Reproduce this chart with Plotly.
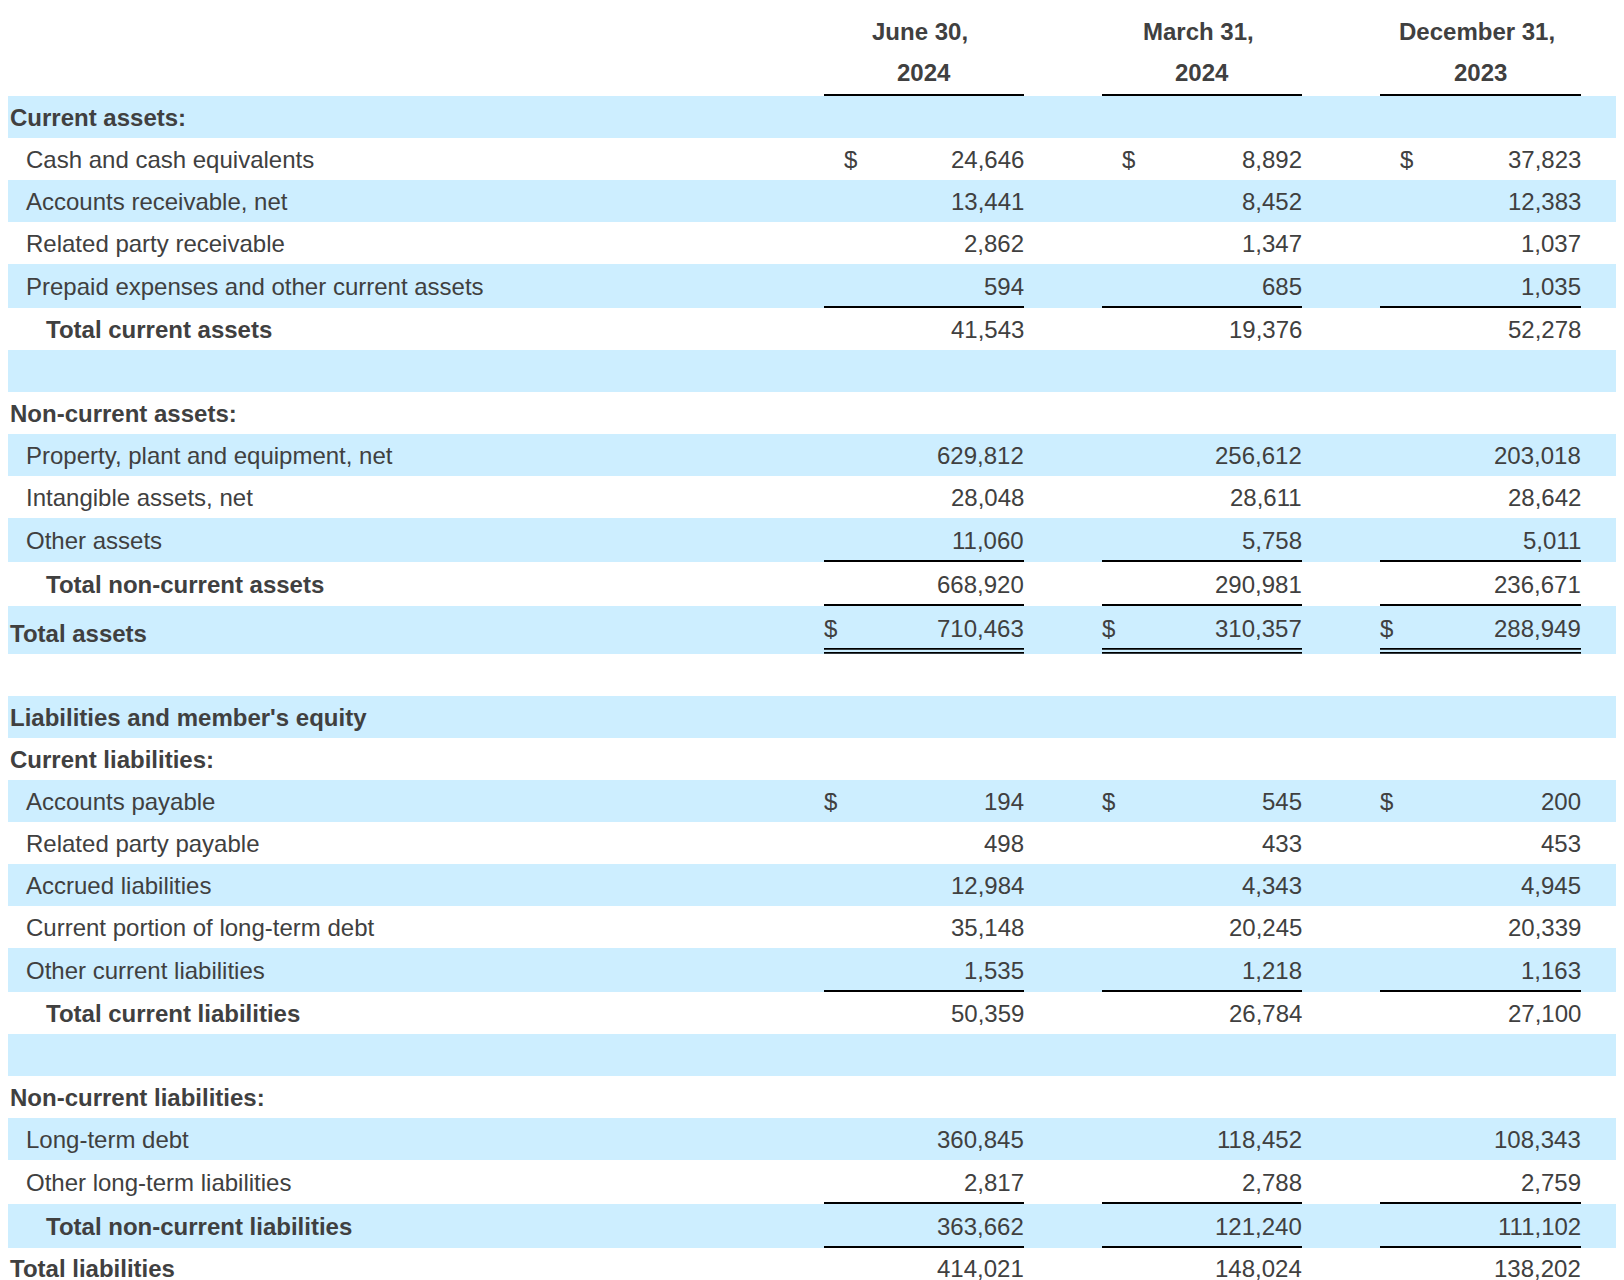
import plotly.graph_objects as go

# balance sheet rows (thousands)
labels = [
    "Current assets:", "Cash and cash equivalents", "Accounts receivable, net",
    "Related party receivable", "Prepaid expenses and other current assets",
    "Total current assets", "", "Non-current assets:",
    "Property, plant and equipment, net", "Intangible assets, net", "Other assets",
    "Total non-current assets", "Total assets", "",
    "Liabilities and member's equity", "Current liabilities:", "Accounts payable",
    "Related party payable", "Accrued liabilities", "Current portion of long-term debt",
    "Other current liabilities", "Total current liabilities", "",
    "Non-current liabilities:", "Long-term debt", "Other long-term liabilities",
    "Total non-current liabilities", "Total liabilities",
]
jun_2024 = [None, 24646, 13441, 2862, 594, 41543, None, None, 629812, 28048, 11060,
            668920, 710463, None, None, None, 194, 498, 12984, 35148, 1535, 50359,
            None, None, 360845, 2817, 363662, 414021]
mar_2024 = [None, 8892, 8452, 1347, 685, 19376, None, None, 256612, 28611, 5758,
            290981, 310357, None, None, None, 545, 433, 4343, 20245, 1218, 26784,
            None, None, 118452, 2788, 121240, 148024]
dec_2023 = [None, 37823, 12383, 1037, 1035, 52278, None, None, 203018, 28642, 5011,
            236671, 288949, None, None, None, 200, 453, 4945, 20339, 1163, 27100,
            None, None, 108343, 2759, 111102, 138202]
col_head1 = ["June 30,", "March 31,", "December 31,"]
col_head2 = ["2024", "2024", "2023"]

# row styling: h = section heading, i = item, t = subtotal
kind = ["h", "i", "i", "i", "i", "t", "", "h", "i", "i", "i", "t", "h", "", "h", "h",
        "i", "i", "i", "i", "i", "t", "", "h", "i", "i", "t", "h"]
rule = {4: 1, 10: 1, 11: 1, 12: 2, 20: 1, 25: 1, 26: 1}
dollar = {1: 20, 12: 0, 16: 0}

TXT = "#404040"
BLUE = "#cdeeff"
FONT = "Helvetica Neue, Helvetica, Arial, Liberation Sans, sans-serif"
cols = [(824, 1024), (1102, 1302), (1380, 1581)]
indent = {"h": 8, "i": 26, "t": 46}
X0 = 8  # page body margin: plot area starts at page pixel 8

fig = go.Figure()
shapes, ann = [], []

y = 96
tops = []
for r in range(len(labels)):
    h = {0: 42, 1: 44, 2: 48}[rule.get(r, 0)]
    tops.append((y, y + h))
    y += h

# header
for c, (x0, x1) in enumerate(cols):
    xc = (x0 + x1) / 2
    ann.append(dict(x=xc - 4, y=31, text="<b>%s</b>" % col_head1[c], xanchor="center"))
    ann.append(dict(x=xc, y=72, text="<b>%s</b>" % col_head2[c], xanchor="center"))
    shapes.append(dict(type="rect", x0=x0, x1=x1, y0=94, y1=96, fillcolor="black",
                       line_width=0, layer="above"))

for r, lab in enumerate(labels):
    y0, y1 = tops[r]
    if r % 2 == 0:
        shapes.append(dict(type="rect", x0=X0, x1=1621, y0=y0, y1=y1, fillcolor=BLUE,
                           line_width=0, layer="below"))
    dbl = rule.get(r, 0) == 2
    ym = (y0 + y1) / 2
    if lab:
        k = kind[r]
        t = "<b>%s</b>" % lab if k in ("h", "t") else lab
        ann.append(dict(x=indent[k], xshift=0 if k == "h" else -2,
                        y=ym + (3 if dbl else 0) - (1 if r == 27 else 0),
                        text=t, xanchor="left"))
    yn = ym - 2 if dbl else ym - (1 if r == 27 else 0)
    for c, vals in enumerate([jun_2024, mar_2024, dec_2023]):
        v = vals[r]
        x0, x1 = cols[c]
        if v is not None:
            ann.append(dict(x=x1 + 2, y=yn, text=f"{v:,}", xanchor="right"))
            if r in dollar:
                ann.append(dict(x=x0 + dollar[r] - 2, y=yn, text="$", xanchor="left"))
        if rule.get(r, 0) == 1:
            shapes.append(dict(type="rect", x0=x0, x1=x1, y0=y1 - 2, y1=y1,
                               fillcolor="black", line_width=0, layer="above"))
        elif dbl:
            for a, b in [(y1 - 6, y1 - 4.2), (y1 - 2, y1 - 0.2)]:
                shapes.append(dict(type="rect", x0=x0, x1=x1, y0=a, y1=b,
                                   fillcolor="black", line_width=0, layer="above"))

for a in ann:
    a.update(xref="x", yref="y", showarrow=False, yanchor="middle",
             font=dict(family=FONT, size=24, color=TXT))

fig.add_trace(go.Scatter(x=[X0, 1624], y=[X0, 1280], mode="markers",
                         marker=dict(opacity=0), hoverinfo="skip", showlegend=False))
fig.update_layout(
    width=1616, height=1272, margin=dict(l=0, r=0, t=0, b=0),
    paper_bgcolor="white", plot_bgcolor="white",
    xaxis=dict(range=[X0, 1624], visible=False, fixedrange=True),
    yaxis=dict(range=[1280, X0], visible=False, fixedrange=True),
    shapes=shapes, annotations=ann, showlegend=False,
)
fig.write_html("out.html", config={"displayModeBar": False})
